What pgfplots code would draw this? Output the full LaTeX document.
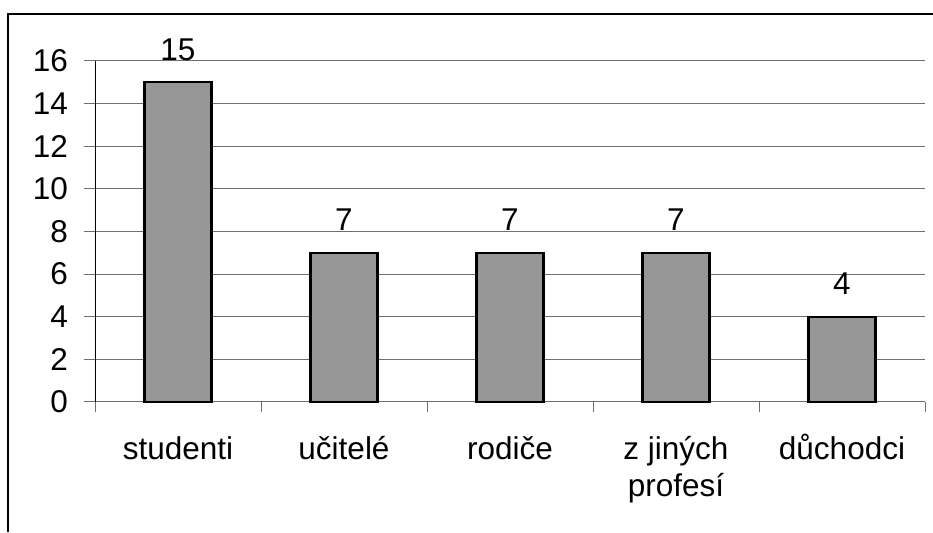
\documentclass[border=0pt]{standalone}
\usepackage{fontspec}
\setmainfont{Liberation Sans}
\usepackage{pgfplots}
\pgfplotsset{compat=1.18}
\definecolor{barfill}{HTML}{969696}
\definecolor{gridc}{HTML}{6E6E6E}
\newcommand{\lbl}{\fontsize{31.5}{37}\selectfont}
\newcommand{\st}{\rule{0pt}{28pt}}
\begin{document}
\begin{tikzpicture}[x=1pt,y=1pt]
\useasboundingbox (0,0) rectangle (933,532);
\draw[line width=1.5pt] (8,0) -- (8,518) -- (933,518);
\begin{axis}[
  at={(95pt,130pt)}, anchor=south west,
  width=830pt, height=341pt, scale only axis,
  clip=false,
  ybar, bar width=67pt,
  xmin=-0.5, xmax=4.5, ymin=0, ymax=16,
  axis x line*=bottom, axis y line*=left,
  axis line style={-},
  x axis line style={gridc, line width=1pt},
  y axis line style={black, line width=1pt},
  xtick={0,1,2,3,4},
  xticklabels={\st studenti, \st učitelé, \st rodiče, {\st z jiných\\profesí}, \st důchodci},
  major x tick style={draw=none},
  minor xtick={-0.5,0.5,1.5,2.5,3.5,4.5},
  minor x tick style={gridc, line width=1pt},
  ytick={0,2,...,16},
  y tick style={gridc, line width=1pt},
  tick align=outside,
  major tick length=11pt,
  minor tick length=10pt,
  ymajorgrids,
  grid style={gridc, line width=1pt},
  /pgf/number format/assume math mode=true,
  tick label style={font=\lbl, inner sep=0pt},
  yticklabel style={anchor=east, xshift=-16pt},
  xticklabel style={align=center, anchor=north, yshift=-18pt},
  nodes near coords,
  every node near coord/.append style={font=\lbl, anchor=base, inner sep=0pt, yshift=22pt, black},
]
\addplot[fill=barfill, draw=black, line width=2.2pt] coordinates {(0,15) (1,7) (2,7) (3,7) (4,4)};
\end{axis}
\end{tikzpicture}
\end{document}
